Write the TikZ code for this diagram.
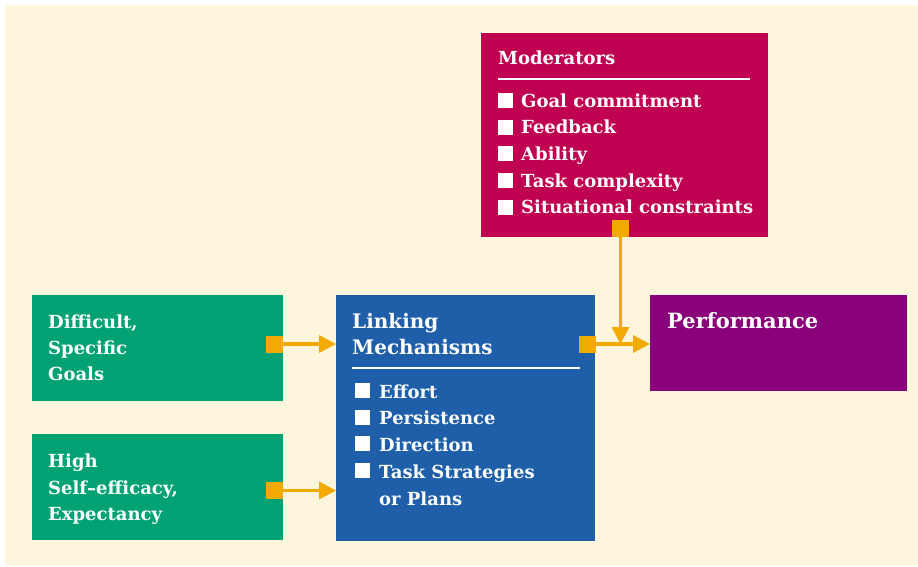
\documentclass[tikz,border=0pt]{standalone}
\usepackage{fontspec}
\setmainfont{DejaVu Serif}
\usetikzlibrary{arrows.meta}
\definecolor{cream}{HTML}{FEF6DC}
\definecolor{modc}{HTML}{C00050}
\definecolor{greenc}{HTML}{00A273}
\definecolor{bluec}{HTML}{1F5FAA}
\definecolor{purplec}{HTML}{8A007A}
\definecolor{orangec}{HTML}{F2AA00}
\tikzset{
  box/.style={draw=none, inner sep=0pt, anchor=north west},
  txt/.style={anchor=base west, inner sep=0pt, text=white, font=\bfseries\fontsize{18}{24}\selectfont},
  headtxt/.style={anchor=base west, inner sep=0pt, text=white, font=\bfseries\fontsize{20}{24}\selectfont},
  bigtxt/.style={anchor=base west, inner sep=0pt, text=white, font=\bfseries\fontsize{21}{26}\selectfont},
  bul/.style={fill=white, inner sep=0pt, minimum size=15pt, anchor=south west},
  sq/.style={fill=orangec, inner sep=0pt, minimum size=17pt},
  arr/.style={draw=orangec, line width=3.5pt, -{Triangle[length=17pt,width=17pt]}},
  rulel/.style={draw=white, line width=2pt}
}
\begin{document}
\begin{tikzpicture}[x=1pt,y=-1pt]
\useasboundingbox (0,0) rectangle (918,566);
\fill[white] (0,0) rectangle (918,566);
\fill[cream] (5,5) rectangle (918,565);
% boxes
\node[box, fill=modc, minimum width=287pt, minimum height=204pt] (mod) at (481,33) {};
\node[box, fill=greenc, minimum width=251pt, minimum height=106pt] (g1) at (32,295) {};
\node[box, fill=greenc, minimum width=251pt, minimum height=106pt] (g2) at (32,434) {};
\node[box, fill=bluec, minimum width=259pt, minimum height=246pt] (link) at (336,295) {};
\node[box, fill=purplec, minimum width=257pt, minimum height=96pt] (perf) at (650,295) {};
% moderators text
\node[txt] (modh) at (498,64) {Moderators};
\draw[rulel] (498,79) -- (750,79);
\foreach \t [count=\i] in {Goal commitment,Feedback,Ability,Task complexity,Situational constraints}{
  \node[bul] (mb\i) at (498,{108+26.7*(\i-1)}) {};
  \node[txt] (mt\i) at (521,{107+26.7*(\i-1)}) {\t};
}
% green texts
\node[txt] (g1a) at (48,328) {Difficult,};
\node[txt] (g1b) at (48,354) {Specific};
\node[txt] (g1c) at (48,380) {Goals};
\node[txt] (g2a) at (48,467) {High};
\node[txt] (g2b) at (48,494) {Self–efficacy,};
\node[txt] (g2c) at (48,520) {Expectancy};
% linking
\node[headtxt] (lh1) at (352,328) {Linking};
\node[headtxt] (lh2) at (352,354) {Mechanisms};
\draw[rulel] (352,368) -- (580,368);
\foreach \t [count=\i] in {Effort,Persistence,Direction,Task Strategies}{
  \node[bul] (lb\i) at (355,{398+26.7*(\i-1)}) {};
  \node[txt] (lt\i) at (379,{398+26.7*(\i-1)}) {\t};
}
\node[txt] (lt5) at (379,505) {or Plans};
% performance
\node[bigtxt] (ph) at (667,328) {Performance};
% connectors
\node[sq] (s1) at (274.5,344) {};
\node[sq] (s2) at (274.5,490.5) {};
\node[sq] (s3) at (587.5,344) {};
\node[sq] (s4) at (620.5,228) {};
\draw[arr] (s1.east) -- (link.west |- s1);
\draw[arr] (s2.east) -- (link.west |- s2);
\draw[arr] (s3.east) -- (perf.west |- s3);
\coordinate (j) at (s4 |- s3);
\draw[arr] (s4.south) -- (j);
\end{tikzpicture}
\end{document}
